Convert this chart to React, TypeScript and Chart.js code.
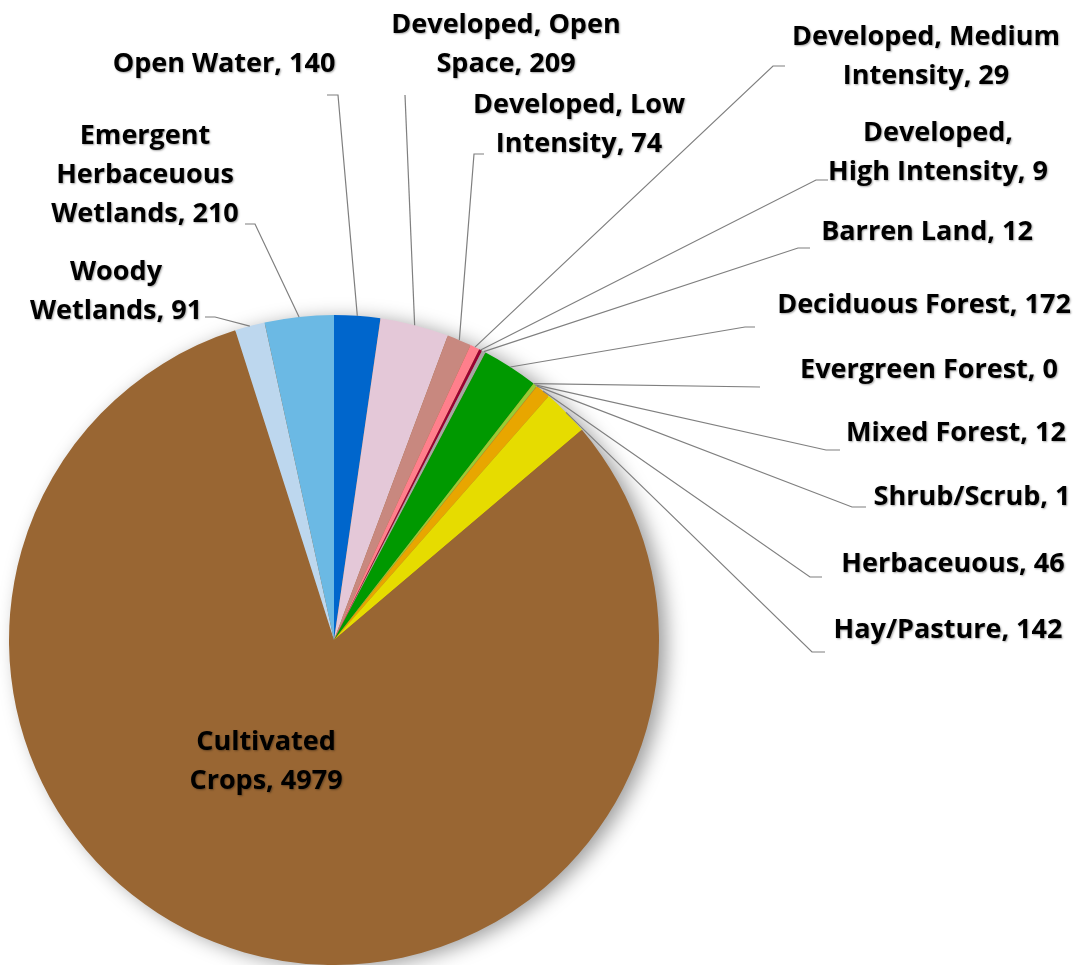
import React, { useEffect, useRef } from 'react';
import { Chart, registerables } from 'chart.js';

Chart.register(...registerables);

// ---- Data ----
const categories: string[] = [
  'Open Water',
  'Developed, Open Space',
  'Developed, Low Intensity',
  'Developed, Medium Intensity',
  'Developed, High Intensity',
  'Barren Land',
  'Deciduous Forest',
  'Evergreen Forest',
  'Mixed Forest',
  'Shrub/Scrub',
  'Herbaceuous',
  'Hay/Pasture',
  'Cultivated Crops',
  'Woody Wetlands',
  'Emergent Herbaceuous Wetlands',
];

const values: number[] = [140, 209, 74, 29, 9, 12, 172, 0, 12, 1, 46, 142, 4979, 91, 210];

// line breaks for label text (value appended to last line)
const labelLines: string[][] = [
  ['Open Water'],
  ['Developed, Open', 'Space'],
  ['Developed, Low', 'Intensity'],
  ['Developed, Medium', 'Intensity'],
  ['Developed,', 'High Intensity'],
  ['Barren Land'],
  ['Deciduous Forest'],
  ['Evergreen Forest'],
  ['Mixed Forest'],
  ['Shrub/Scrub'],
  ['Herbaceuous'],
  ['Hay/Pasture'],
  ['Cultivated', 'Crops'],
  ['Woody', 'Wetlands'],
  ['Emergent', 'Herbaceuous', 'Wetlands'],
];

const colors: string[] = [
  '#0066CC',
  '#E4C8D8',
  '#C8887F',
  '#FF7F8C',
  '#990033',
  '#A6A6A6',
  '#009900',
  '#336633',
  '#99CC33',
  '#CC9933',
  '#E8A600',
  '#E6DC00',
  '#996633',
  '#BDD7EE',
  '#6BB9E4',
];

// ---- Layout for labels (label center x, first line center y, leader elbow and end) ----
type LabelPos = { x: number; y: number; elbow?: [number, number]; end?: [number, number] };
const labelLayout: LabelPos[] = [
  { x: 224, y: 64, elbow: [338, 95], end: [327, 95] },
  { x: 506, y: 25, elbow: [405, 95], end: [405, 95] },
  { x: 579, y: 105, elbow: [474, 154], end: [484, 154] },
  { x: 926, y: 37, elbow: [773, 66], end: [785, 66] },
  { x: 938, y: 133, elbow: [816, 180], end: [828, 180] },
  { x: 927, y: 232, elbow: [798, 248], end: [810, 248] },
  { x: 924, y: 305, elbow: [745, 327], end: [755, 327] },
  { x: 929, y: 370, elbow: [760, 387], end: [760, 387] },
  { x: 956, y: 433, elbow: [826, 450], end: [840, 450] },
  { x: 972, y: 497, elbow: [852, 507], end: [866, 507] },
  { x: 953, y: 564, elbow: [810, 577], end: [822, 577] },
  { x: 948, y: 630, elbow: [812, 652], end: [825, 652] },
  { x: 266, y: 742 },
  { x: 116, y: 272, elbow: [215, 317], end: [205, 317] },
  { x: 145, y: 136, elbow: [255, 224], end: [245, 224] },
];

const FONT = 'bold 27px "Open Sans", Lato, sans-serif';
const LINE_H = 39;

const shadowPlugin = {
  id: 'pieShadow',
  beforeDatasetsDraw(chart: any) {
    const meta = chart.getDatasetMeta(0);
    const arc = meta.data[0];
    if (!arc) return;
    const { x, y, outerRadius } = arc.getProps(['x', 'y', 'outerRadius'], true);
    const ctx = chart.ctx;
    ctx.save();
    ctx.shadowColor = 'rgba(0,0,0,0.4)';
    ctx.shadowBlur = 20;
    ctx.shadowOffsetX = 8;
    ctx.shadowOffsetY = 3;
    ctx.beginPath();
    ctx.arc(x, y, outerRadius - 1, 0, Math.PI * 2);
    ctx.fillStyle = '#996633';
    ctx.fill();
    ctx.restore();
  },
};

const labelPlugin = {
  id: 'pieLabels',
  afterDatasetsDraw(chart: any) {
    const meta = chart.getDatasetMeta(0);
    const ctx = chart.ctx;
    ctx.save();
    meta.data.forEach((arc: any, i: number) => {
      const pos = labelLayout[i];
      if (!pos) return;
      const p = arc.getProps(['x', 'y', 'startAngle', 'endAngle', 'outerRadius'], true);
      if (pos.elbow && pos.end) {
        const mid = (p.startAngle + p.endAngle) / 2;
        const sx = p.x + Math.cos(mid) * p.outerRadius;
        const sy = p.y + Math.sin(mid) * p.outerRadius;
        ctx.beginPath();
        ctx.moveTo(sx, sy);
        ctx.lineTo(pos.elbow[0], pos.elbow[1]);
        ctx.lineTo(pos.end[0], pos.end[1]);
        ctx.strokeStyle = '#7F7F7F';
        ctx.lineWidth = 1.2;
        ctx.stroke();
      }
      const lines = labelLines[i].slice();
      lines[lines.length - 1] = lines[lines.length - 1] + ', ' + values[i];
      ctx.font = FONT;
      ctx.textAlign = 'center';
      ctx.textBaseline = 'middle';
      ctx.fillStyle = '#000000';
      ctx.shadowColor = 'rgba(0,0,0,0.35)';
      ctx.shadowBlur = 2;
      ctx.shadowOffsetX = 1;
      ctx.shadowOffsetY = 1;
      lines.forEach((ln, k) => {
        ctx.fillText(ln, pos.x, pos.y + k * LINE_H);
      });
      ctx.shadowColor = 'transparent';
    });
    ctx.restore();
  },
};

export default function App() {
  const ref = useRef<HTMLCanvasElement | null>(null);

  useEffect(() => {
    if (!ref.current) return;
    const chart = new Chart(ref.current, {
      type: 'pie',
      data: {
        labels: categories,
        datasets: [
          {
            data: values,
            backgroundColor: colors,
            borderWidth: 0,
          },
        ],
      },
      options: {
        responsive: false,
        animation: false,
        layout: { padding: { left: 9, right: 417, top: 315, bottom: 0 } },
        plugins: {
          legend: { display: false },
          tooltip: { enabled: false },
        },
      },
      plugins: [shadowPlugin, labelPlugin],
    });
    return () => chart.destroy();
  }, []);

  return (
    <div style={{ position: 'fixed', left: 0, top: 0, width: 1076, height: 965, background: '#ffffff' }}>
      <canvas ref={ref} width={1076} height={965} style={{ width: 1076, height: 965 }} />
    </div>
  );
}
